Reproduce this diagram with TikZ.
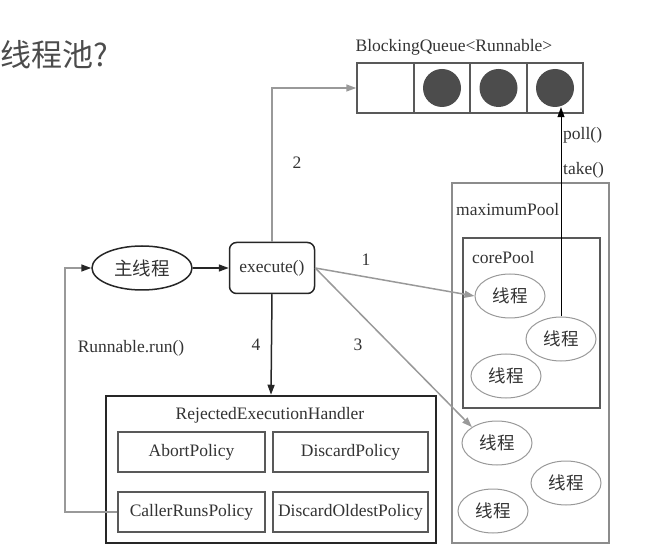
\documentclass[tikz,border=0pt]{standalone}
\usepackage{fontspec}
\setmainfont{Liberation Serif}
\newfontfamily\cjk{Noto Sans CJK SC}
\usepackage{tikz}
\usetikzlibrary{arrows.meta,shapes.geometric,positioning}

\begin{document}
\begin{tikzpicture}[x=1pt,y=-1pt,
		txt/.style={font=\fontsize{17.5}{20}\selectfont, text=black!80, inner sep=0pt},
		cell/.style={draw=black!65, line width=2pt, minimum width=56.5pt, minimum height=50pt, inner sep=0pt},
		ball/.style={circle, fill=black!70, minimum size=38pt, inner sep=0pt},
		thread/.style={draw=black!40, line width=1pt, ellipse, minimum width=70pt, minimum height=44pt, inner sep=0pt, font=\cjk\fontsize{17.5}{20}\selectfont, text=black!80},
		policy/.style={draw=black!65, line width=2pt, minimum height=40pt, txt},
		tip/.style={-{Triangle[length=10pt,width=7pt]}},
		grayarrow/.style={draw=black!40, line width=1.5pt, tip},
		blackarrow/.style={draw=black!85, line width=1.5pt, tip}]
		\useasboundingbox (0,0) rectangle (670,556);

		\node[txt, anchor=west, font=\cjk\fontsize{31}{34}\selectfont, text=black!70] (title) at (0,55) {线程池?};

		% blocking queue
		\foreach \i in {1,...,4}
			\node[cell] (q\i) at ({385.5+56.5*(\i-1)},88) {};
		\foreach \i in {2,3,4}
			\node[ball] (b\i) at (q\i) {};
		\node[txt] (qlabel) at (454,47) {BlockingQueue<Runnable>};

		\node[draw=black!85, line width=1.5pt, ellipse, minimum width=100pt, minimum height=44pt, font=\cjk\fontsize{18.5}{20}\selectfont, text=black!80] (main) at (142,268) {主线程};
		\node[draw=black!85, line width=1.5pt, rounded corners=7pt, minimum width=85pt, minimum height=51pt, txt] (exec) at (272,268) {execute()};

		% pools
		\node[draw=black!45, line width=2pt, minimum width=157pt, minimum height=360pt] (maxpool) at (530.5,363) {};
		\node[txt, anchor=west] (maxlabel) at (456,210) {maximumPool};
		\node[draw=black!65, line width=2pt, minimum width=137pt, minimum height=170pt] (corepool) at (531.5,323) {};
		\node[txt, anchor=west] (corelabel) at (472,258) {corePool};

		\node[thread] (t1) at (510,296) {线程};
		\node[thread] (t2) at (561,339) {线程};
		\node[thread] (t3) at (506,376) {线程};
		\node[thread] (t4) at (497,443) {线程};
		\node[thread] (t5) at (566,483) {线程};
		\node[thread] (t6) at (493,511) {线程};

		% rejected execution handler
		\node[draw=black!85, line width=2.5pt, minimum width=330pt, minimum height=147pt] (handler) at (271,469.5) {};
		\node[txt] (hlabel) at (270,415) {RejectedExecutionHandler};
		\node[policy, minimum width=147pt] (abort) at (191.5,452) {AbortPolicy};
		\node[policy, minimum width=155pt] (discard) at (350.5,452) {DiscardPolicy};
		\node[policy, minimum width=147pt] (caller) at (191.5,512) {CallerRunsPolicy};
		\node[policy, minimum width=155pt] (oldest) at (350.5,512) {DiscardOldestPolicy};

		% connectors
		\draw[blackarrow] (main) -- (exec);
		\draw[grayarrow] (exec.north) |- (q1.west);
		\draw[grayarrow] (exec.east) -- (t1.west);
		\draw[grayarrow] (exec.east) -- (t4.north west);
		\draw[blackarrow] (exec.south) -- (handler.north);
		\draw[draw=black!40, line width=1.5pt, -{Triangle[length=10pt,width=7pt,color=black!85]}] (caller.west) -- ++(-52,0) |- (main.west);
		\draw[draw=black, line width=0.8pt, tip] (t2.north) -- (t2.north |- b4.south);

		\node[txt] (l1) at (366,260) {1};
		\node[txt] (l2) at (297,163) {2};
		\node[txt] (l3) at (358,345) {3};
		\node[txt] (l4) at (256,345) {4};
		\node[txt] (lrun) at (131,348) {Runnable.run()};
		\node[txt, anchor=west] (lpoll) at (563,135) {poll()};
		\node[txt, anchor=west] (ltake) at (563,170) {take()};
	\end{tikzpicture}
\end{document}
